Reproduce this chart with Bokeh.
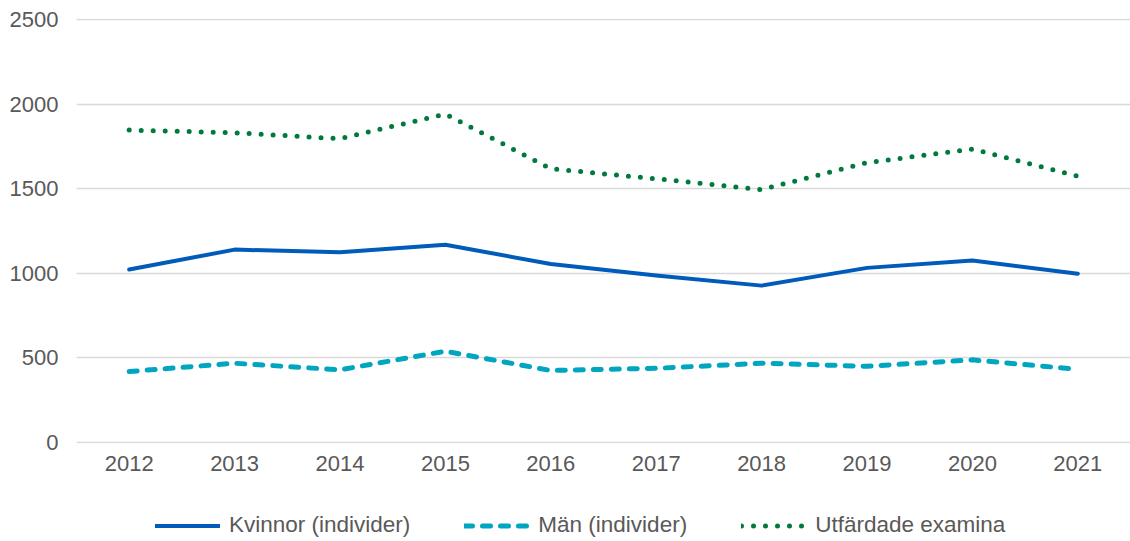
from bokeh.plotting import figure
from bokeh.models import ColumnDataSource, FixedTicker, Legend, LegendItem, Range1d
from bokeh.layouts import column
from bokeh.embed import file_html
from bokeh.resources import INLINE

years = [2012, 2013, 2014, 2015, 2016, 2017, 2018, 2019, 2020, 2021]
kvinnor = [1021, 1139, 1124, 1168, 1054, 986, 926, 1031, 1074, 996]
man = [418, 467, 428, 538, 424, 437, 467, 449, 487, 431]
utfardade = [1846, 1830, 1795, 1941, 1617, 1558, 1494, 1653, 1734, 1573]
y_ticks = [0, 500, 1000, 1500, 2000, 2500]
labels = ["Kvinnor (individer)", "Män (individer)", "Utfärdade examina"]

FONT = "Liberation Sans"
TXT = "#595959"
C_K, C_M, C_U = "#005BBB", "#00A6C0", "#007A3C"

src = ColumnDataSource(dict(x=years, k=kvinnor, m=man, u=utfardade))


def add_lines(fig):
    rk = fig.line("x", "k", source=src, line_color=C_K, line_width=4,
                  line_join="round", line_cap="round")
    rm = fig.line("x", "m", source=src, line_color=C_M, line_width=5,
                  line_dash="8 10", line_cap="round", line_join="round")
    ru = fig.line("x", "u", source=src, line_color=C_U, line_width=5,
                  line_dash="0 12", line_cap="round", line_join="round")
    return rk, rm, ru


# main chart
p = figure(width=1130, height=490, output_backend="svg", toolbar_location=None,
           x_range=Range1d(2011.5, 2021.5), y_range=Range1d(-7.7, 2505.9),
           min_border_left=76, min_border_right=0, min_border_top=18, min_border_bottom=47)
p.outline_line_color = None
p.border_fill_color = "white"
add_lines(p)

p.xgrid.grid_line_color = None
p.ygrid.grid_line_color = "#d9d9d9"
p.ygrid.grid_line_width = 1.5
p.ygrid.ticker = FixedTicker(ticks=y_ticks)

p.xaxis.ticker = FixedTicker(ticks=years)
p.yaxis.ticker = FixedTicker(ticks=y_ticks)
for ax in (p.xaxis, p.yaxis):
    ax.axis_line_color = None
    ax.major_tick_line_color = None
    ax.minor_tick_line_color = None
    ax.major_tick_out = 0
    ax.major_tick_in = 0
    ax.minor_tick_out = 0
    ax.major_label_text_font = FONT
    ax.major_label_text_font_size = "22px"
    ax.major_label_text_color = TXT
p.xaxis.major_label_standoff = 12
p.yaxis.major_label_standoff = 18

# legend strip (same series, drawn outside its visible range so only the legend shows)
lg = figure(width=1130, height=51, output_backend="svg", toolbar_location=None,
            x_range=Range1d(0, 1), y_range=Range1d(0, 1),
            x_axis_type=None, y_axis_type=None, min_border=0)
lg.outline_line_color = None
lg.xgrid.grid_line_color = None
lg.ygrid.grid_line_color = None
lk, lm, lu = add_lines(lg)

legend = Legend(items=[LegendItem(label=labels[0], renderers=[lk]),
                       LegendItem(label=labels[1], renderers=[lm]),
                       LegendItem(label=labels[2], renderers=[lu])],
                orientation="horizontal", location=(79, 3),
                glyph_width=65, glyph_height=25, label_height=25,
                label_standoff=9, spacing=54,
                padding=0, margin=0, border_line_color=None, background_fill_alpha=0,
                label_text_font=FONT, label_text_font_size="22.5px", label_text_color=TXT)
lg.add_layout(legend, "center")

layout = column(p, lg, spacing=0)
open("out.html", "w").write(file_html(layout, INLINE))
